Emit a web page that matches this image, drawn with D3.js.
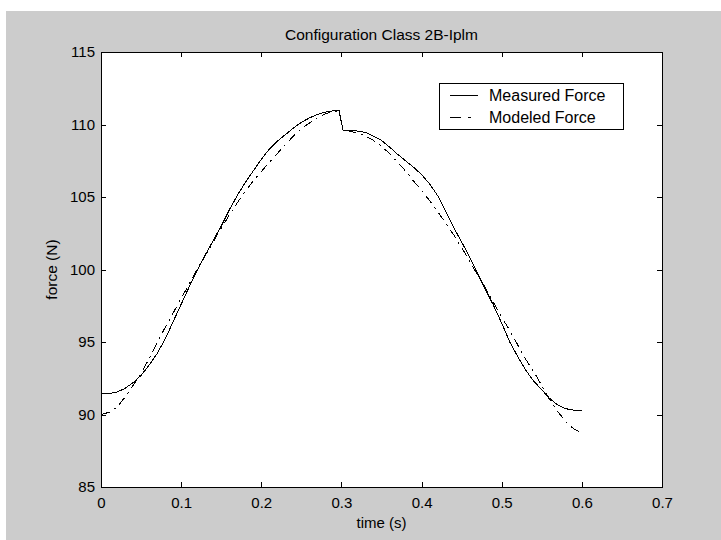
<!DOCTYPE html>
<html>
<head>
<meta charset="utf-8">
<script src="https://cdn.jsdelivr.net/npm/d3@7"></script>
<style>
  body { margin: 0; background: #fff; }
  text { font-family: "Liberation Sans", Arial, sans-serif; fill: #000; }
</style>
</head>
<body>
<div id="chart"></div>
<script>
const width = 721;
const height = 540;

// time samples (s)
const time = [0, 0.01, 0.02, 0.03, 0.04, 0.05, 0.06, 0.07, 0.08, 0.09,
  0.10, 0.11, 0.12, 0.13, 0.14, 0.15, 0.16, 0.17, 0.18, 0.19,
  0.20, 0.21, 0.22, 0.23, 0.24, 0.25, 0.26, 0.27, 0.28, 0.29,
  0.297, 0.302, 0.31, 0.32, 0.33, 0.34, 0.35, 0.36, 0.37, 0.38, 0.39,
  0.40, 0.41, 0.42, 0.43, 0.44, 0.45, 0.46, 0.47, 0.48, 0.49,
  0.50, 0.51, 0.52, 0.53, 0.54, 0.55, 0.56, 0.57, 0.58, 0.59, 0.60];

const measured = [91.45, 91.45, 91.55, 91.8, 92.2, 92.7, 93.4, 94.2, 95.2, 96.4,
  97.6, 98.8, 99.95, 101.0, 102.0, 103.0, 104.1, 105.1, 106.0, 106.8,
  107.6, 108.3, 108.85, 109.3, 109.75, 110.15, 110.45, 110.7, 110.85, 110.95,
  111.0, 109.6, 109.6, 109.55, 109.45, 109.2, 108.9, 108.45, 107.95, 107.5, 107.05,
  106.55, 105.9, 105.1, 104.0, 102.9, 101.9, 100.85, 99.7, 98.6, 97.5,
  96.3, 95.0, 94.0, 93.05, 92.3, 91.7, 91.1, 90.65, 90.4, 90.3, 90.25];

const modeled = [90.0, 90.15, 90.5, 91.2, 92.0, 92.85, 93.85, 94.95, 96.0, 97.0,
  98.0, 99.0, 100.0, 100.95, 101.9, 102.85, 103.75, 104.6, 105.4, 106.1,
  106.75, 107.4, 108.0, 108.6, 109.2, 109.7, 110.1, 110.45, 110.75, 110.9,
  110.95, 109.6, 109.55, 109.4, 109.2, 108.9, 108.5, 108.0, 107.4, 106.8, 106.1,
  105.45, 104.75, 104.0, 103.2, 102.4, 101.5, 100.6, 99.6, 98.7, 97.7,
  96.7, 95.8, 94.8, 93.8, 92.95, 92.0, 91.0, 90.2, 89.5, 89.0, 88.75];

const xTicks = [0, 0.1, 0.2, 0.3, 0.4, 0.5, 0.6, 0.7];
const yTicks = [85, 90, 95, 100, 105, 110, 115];
const seriesNames = ["Measured Force", "Modeled Force"];

const svg = d3.select("#chart")
  .append("svg")
  .attr("width", width)
  .attr("height", height);

// figure background
svg.append("rect")
  .attr("x", 6).attr("y", 11)
  .attr("width", width - 6).attr("height", height - 11)
  .attr("fill", "#cccccc");

const x = d3.scaleLinear().domain([0, 0.7]).range([101, 662]);
const y = d3.scaleLinear().domain([85, 115]).range([487, 52]);

// axes area
svg.append("rect")
  .attr("x", x(0)).attr("y", y(115))
  .attr("width", x(0.7) - x(0)).attr("height", y(85) - y(115))
  .attr("fill", "#fff");

const fmtX = d => d === 0 ? "0" : d3.format(".1f")(d);

const axBottom = svg.append("g")
  .attr("transform", `translate(0,${y(85)})`)
  .call(d3.axisBottom(x).tickValues(xTicks).tickFormat(fmtX)
    .tickSizeInner(-5).tickSizeOuter(0).tickPadding(10));
const axTop = svg.append("g")
  .attr("transform", `translate(0,${y(115)})`)
  .call(d3.axisTop(x).tickValues(xTicks).tickFormat("")
    .tickSizeInner(-5).tickSizeOuter(0));
const axLeft = svg.append("g")
  .attr("transform", `translate(${x(0)},0)`)
  .call(d3.axisLeft(y).tickValues(yTicks)
    .tickSizeInner(-5).tickSizeOuter(0).tickPadding(6));
const axRight = svg.append("g")
  .attr("transform", `translate(${x(0.7)},0)`)
  .call(d3.axisRight(y).tickValues(yTicks).tickFormat("")
    .tickSizeInner(-5).tickSizeOuter(0));

[axBottom, axTop, axLeft, axRight].forEach(g => {
  g.select(".domain").remove();
  g.selectAll("line").attr("stroke", "#000").attr("shape-rendering", "crispEdges");
  g.selectAll("text").attr("font-size", 15).attr("fill", "#000")
    .attr("font-family", "Liberation Sans, Arial, sans-serif");
});

// frame
svg.append("rect")
  .attr("x", x(0) + 0.5).attr("y", y(115) + 0.5)
  .attr("width", x(0.7) - x(0)).attr("height", y(85) - y(115))
  .attr("fill", "none").attr("stroke", "#000")
  .attr("shape-rendering", "crispEdges");

const pts = vals => time.map((t, i) => [t, vals[i]]);
const line = d3.line().x(d => x(d[0])).y(d => y(d[1]));

svg.append("path")
  .datum(pts(measured))
  .attr("fill", "none").attr("stroke", "#000").attr("stroke-width", 1)
  .attr("shape-rendering", "crispEdges")
  .attr("d", line);

svg.append("path")
  .datum(pts(modeled))
  .attr("fill", "none").attr("stroke", "#000").attr("stroke-width", 1)
  .attr("stroke-dasharray", "9,5,2,5")
  .attr("shape-rendering", "crispEdges")
  .attr("d", line);

// title and labels
svg.append("text")
  .attr("x", (x(0) + x(0.7)) / 2).attr("y", 40)
  .attr("text-anchor", "middle").attr("font-size", 15.5)
  .text("Configuration Class 2B-Iplm");

svg.append("text")
  .attr("x", (x(0) + x(0.7)) / 2).attr("y", 528)
  .attr("text-anchor", "middle").attr("font-size", 15)
  .text("time (s)");

svg.append("text")
  .attr("transform", `translate(57,${(y(85) + y(115)) / 2}) rotate(-90)`)
  .attr("text-anchor", "middle").attr("font-size", 15.5)
  .text("force (N)");

// legend
const legend = svg.append("g");
legend.append("rect")
  .attr("x", 439.5).attr("y", 83.5).attr("width", 184).attr("height", 46)
  .attr("fill", "#fff").attr("stroke", "#000")
  .attr("shape-rendering", "crispEdges");

seriesNames.forEach((name, i) => {
  const cy = 95.5 + i * 21.5;
  legend.append("line")
    .attr("x1", 450).attr("x2", 478).attr("y1", cy).attr("y2", cy)
    .attr("stroke", "#000")
    .attr("shape-rendering", "crispEdges")
    .attr("stroke-dasharray", i === 0 ? null : "11,7,3,7");
  legend.append("text")
    .attr("x", 489).attr("y", cy + 5.5)
    .attr("font-size", 16)
    .text(name);
});
</script>
</body>
</html>
